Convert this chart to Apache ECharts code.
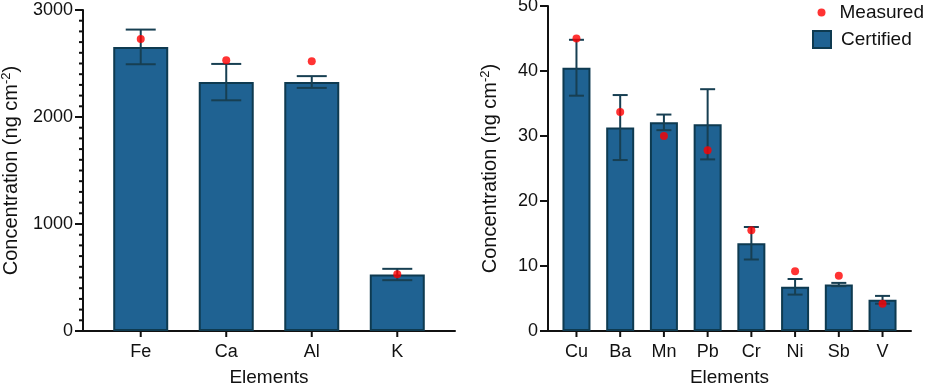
<!DOCTYPE html>
<html>
<head>
<meta charset="utf-8">
<script src="https://cdn.jsdelivr.net/npm/echarts@6/dist/echarts.min.js"></script>
<style>
html, body { margin: 0; padding: 0; background: #fff; }
#chart { width: 925px; height: 385px; }
</style>
</head>
<body>
<div id="chart"></div>
<script>
// major elements (left panel)
var majorNames = ['Fe', 'Ca', 'Al', 'K'];
var majorCertified = [2655, 2326, 2327, 528];
var majorCertErr = [162, 170, 55, 53];
var majorMeasured = [2730, 2530, 2520, 531];
var majorTicks = [0, 1000, 2000, 3000];

// trace elements (right panel)
var traceNames = ['Cu', 'Ba', 'Mn', 'Pb', 'Cr', 'Ni', 'Sb', 'V'];
var traceCertified = [40.5, 31.3, 32.1, 31.8, 13.5, 6.8, 7.15, 4.8];
var traceCertErr = [4.3, 5.0, 1.2, 5.4, 2.5, 1.2, 0.25, 0.6];
var traceMeasured = [45.0, 33.7, 30.0, 27.8, 15.5, 9.2, 8.5, 4.2];
var traceTicks = [0, 10, 20, 30, 40, 50];

var FONT = 'Liberation Sans, Arial, sans-serif';
var BAR = '#1f6292';
var EDGE = '#0e3a50';
var ERR = '#173f52';
var INK = '#111';
var PAD_L = 0.175, PAD_R = 0.151;

// minor ticks every 100 on the left panel
var majorMinorTicks = [];
for (var t = 100; t < 3000; t += 100) { if (t % 1000) majorMinorTicks.push(t); }

function pairs(vals) {
    return vals.map(function (v, i) { return [i, v]; });
}
function errData(vals, errs) {
    return vals.map(function (v, i) { return [i, v, errs[i]]; });
}
function errRender(capHalf) {
    return function (params, api) {
        var x = api.value(0), y = api.value(1), e = api.value(2);
        var hi = api.coord([x, y + e]);
        var lo = api.coord([x, y - e]);
        var st = { stroke: ERR, lineWidth: 2 };
        return {
            type: 'group',
            children: [
                { type: 'line', shape: { x1: hi[0], y1: hi[1], x2: lo[0], y2: lo[1] }, style: st },
                { type: 'line', shape: { x1: hi[0] - capHalf, y1: hi[1], x2: hi[0] + capHalf, y2: hi[1] }, style: st },
                { type: 'line', shape: { x1: lo[0] - capHalf, y1: lo[1], x2: lo[0] + capHalf, y2: lo[1] }, style: st }
            ]
        };
    };
}
// tick marks drawn on the axes (left of y axis, below x axis)
function tickSeries(gridIndex, values, xMin, len, horizontal) {
    return {
        type: 'custom', xAxisIndex: gridIndex, yAxisIndex: gridIndex, z: 6, silent: true,
        clip: false,
        data: values.map(function (v) { return horizontal ? [v, 0] : [xMin, v]; }),
        renderItem: function (params, api) {
            var p = api.coord([api.value(0), api.value(1)]);
            var shape = horizontal
                ? { x1: p[0], y1: p[1], x2: p[0], y2: p[1] + len }
                : { x1: p[0] - len, y1: p[1], x2: p[0], y2: p[1] };
            return { type: 'line', shape: shape, style: { stroke: INK, lineWidth: 2 } };
        }
    };
}
function xAxisFor(names, gridIndex, pad) {
    var idx = names.map(function (n, i) { return i; });
    return {
        type: 'value', gridIndex: gridIndex,
        min: -0.5 - pad, max: names.length - 0.5 + pad,
        name: 'Elements', nameLocation: 'middle', nameGap: 37,
        nameTextStyle: { fontSize: 19, color: INK, fontFamily: FONT },
        splitLine: { show: false },
        axisLine: { show: true, onZero: false, lineStyle: { color: INK, width: 2 } },
        axisTick: { show: false },
        axisLabel: {
            customValues: idx, margin: 12, fontSize: 18, color: INK, fontFamily: FONT,
            formatter: function (v) { return names[Math.round(v)]; }
        }
    };
}
function yAxisFor(gridIndex, max, interval, gap) {
    return {
        type: 'value', gridIndex: gridIndex, position: 'left', min: 0, max: max, interval: interval,
        name: '{a|Concentration (ng cm}{s|-2}{a|)}', nameLocation: 'middle', nameGap: gap,
        nameTextStyle: {
            rich: {
                a: { fontSize: 20, color: INK, fontFamily: FONT },
                s: { fontSize: 13, color: INK, fontFamily: FONT, padding: [0, 0, 10, 0] }
            }
        },
        splitLine: { show: false },
        axisLine: { show: true, onZero: false, lineStyle: { color: INK, width: 2 } },
        axisTick: { show: false },
        axisLabel: {
            fontSize: 18, color: INK, margin: 10, fontFamily: FONT,
            formatter: function (v) { return String(v); }
        }
    };
}

var chart = echarts.init(document.getElementById('chart'), null, { renderer: 'canvas' });
chart.setOption({
    animation: false,
    textStyle: { fontFamily: FONT },
    grid: [
        { left: 83, right: 470, top: 10, bottom: 54, outerBoundsMode: 'none', containLabel: false },
        { left: 548, right: 14, top: 6, bottom: 54, outerBoundsMode: 'none', containLabel: false }
    ],
    legend: [
        {
            data: ['Measured'], icon: 'circle', itemWidth: 26, itemHeight: 8,
            right: 1, top: 3, padding: 0, selectedMode: false,
            textStyle: { fontSize: 19, color: INK, fontFamily: FONT }
        },
        {
            data: ['Certified'], icon: 'rect', itemWidth: 18, itemHeight: 17,
            left: 812, top: 30, padding: 0, selectedMode: false,
            textStyle: { fontSize: 19, color: INK, fontFamily: FONT, padding: [0, 0, 0, 5] }
        }
    ],
    xAxis: [
        xAxisFor(majorNames, 0, PAD_L),
        xAxisFor(traceNames, 1, PAD_R)
    ],
    yAxis: [
        yAxisFor(0, 3000, 1000, 60),
        yAxisFor(1, 50, 10, 46)
    ],
    series: [
        {
            name: 'Certified', type: 'bar', xAxisIndex: 0, yAxisIndex: 0, z: 2,
            barWidth: 55, data: pairs(majorCertified),
            itemStyle: { color: BAR, borderColor: EDGE, borderWidth: 2 }
        },
        {
            name: 'err-major', type: 'custom', xAxisIndex: 0, yAxisIndex: 0, z: 3,
            renderItem: errRender(15), data: errData(majorCertified, majorCertErr)
        },
        {
            name: 'Measured', type: 'scatter', xAxisIndex: 0, yAxisIndex: 0, z: 4,
            symbolSize: 8, data: pairs(majorMeasured), itemStyle: { color: '#ff0000' }
        },
        {
            name: 'Certified', type: 'bar', xAxisIndex: 1, yAxisIndex: 1, z: 2,
            barWidth: 28, data: pairs(traceCertified),
            itemStyle: { color: BAR, borderColor: EDGE, borderWidth: 2 }
        },
        {
            name: 'err-trace', type: 'custom', xAxisIndex: 1, yAxisIndex: 1, z: 3,
            renderItem: errRender(7.5), data: errData(traceCertified, traceCertErr)
        },
        {
            name: 'Measured', type: 'scatter', xAxisIndex: 1, yAxisIndex: 1, z: 4,
            symbolSize: 8, data: pairs(traceMeasured), itemStyle: { color: '#ff0000' }
        },
        tickSeries(0, majorTicks, -0.5 - PAD_L, 8, false),
        tickSeries(0, majorMinorTicks, -0.5 - PAD_L, 4, false),
        tickSeries(0, majorNames.map(function (n, i) { return i; }), 0, 6, true),
        tickSeries(1, traceTicks, -0.5 - PAD_R, 8, false),
        tickSeries(1, traceNames.map(function (n, i) { return i; }), 0, 6, true)
    ]
});
</script>
</body>
</html>
